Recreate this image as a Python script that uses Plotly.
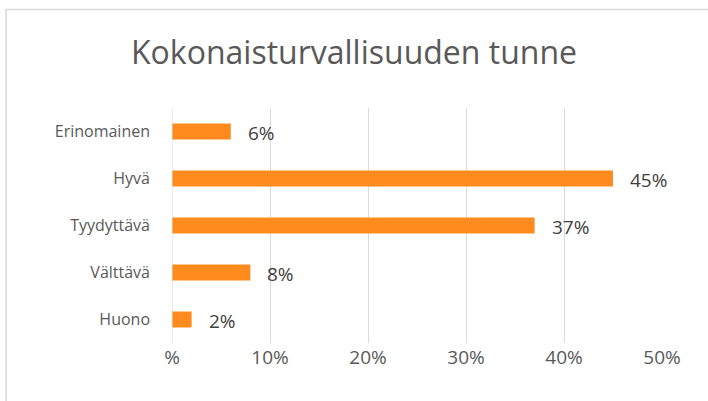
import plotly.graph_objects as go

categories = ["Erinomainen", "Hyvä", "Tyydyttävä", "Välttävä", "Huono"]
values = [6, 45, 37, 8, 2]
labels = ["6%", "45%", "37%", "8%", "2%"]
tick_vals = [0, 10, 20, 30, 40, 50]
tick_text = ["%", "10%", "20%", "30%", "40%", "50%"]
title = "Kokonaisturvallisuuden tunne"

W, H = 708, 401
L, R, T, B = 172, 45.5, 108, 58
pw, ph = W - L - R, H - T - B

FONT = "Open Sans"

fig = go.Figure()
fig.add_trace(go.Bar(
    y=categories, x=values, orientation="h",
    marker=dict(color="#FF8B1E", line=dict(width=0)),
    width=0.34, hoverinfo="skip",
))

for c, v, t in zip(categories, values, labels):
    fig.add_annotation(x=v, y=c, text=t, showarrow=False, xanchor="left",
                       xshift=15, yshift=-1,
                       font=dict(family=FONT, size=19, color="#404040"))

# chart-area border (left and top edges visible in crop)
x0 = (6 - L) / pw
y0 = 1 + (T - 9.5) / ph
fig.add_shape(type="path", xref="paper", yref="paper",
              path=f"M {x0} -1 L {x0} {y0} L 2 {y0}",
              line=dict(color="#D9D9D9", width=1.5))

fig.update_layout(
    width=W, height=H,
    margin=dict(l=L, r=R, t=T, b=B),
    paper_bgcolor="white", plot_bgcolor="white",
    showlegend=False,
    title=dict(text=title, x=0.5, xref="container", y=1 - 53 / H,
               yref="container", yanchor="middle", xanchor="center",
               font=dict(family=FONT, size=32, color="#595959")),
    xaxis=dict(range=[0, 50], tickvals=tick_vals, ticktext=tick_text,
               showgrid=True, gridcolor="#D9D9D9", gridwidth=1,
               zeroline=False, showline=False, ticks="",
               tickfont=dict(family=FONT, size=19, color="#595959"),
               ticklabelstandoff=1, fixedrange=True),
    yaxis=dict(categoryorder="array", categoryarray=categories[::-1],
               showgrid=False, zeroline=False, showline=False, ticks="",
               ticklabelstandoff=21,
               tickfont=dict(family=FONT, size=16, color="#595959"),
               fixedrange=True),
)
fig.add_vline(x=0, line=dict(color="#D9D9D9", width=1))

fig.write_html("out.html", post_script="document.body.style.margin='0';",
               config={"displayModeBar": False})
